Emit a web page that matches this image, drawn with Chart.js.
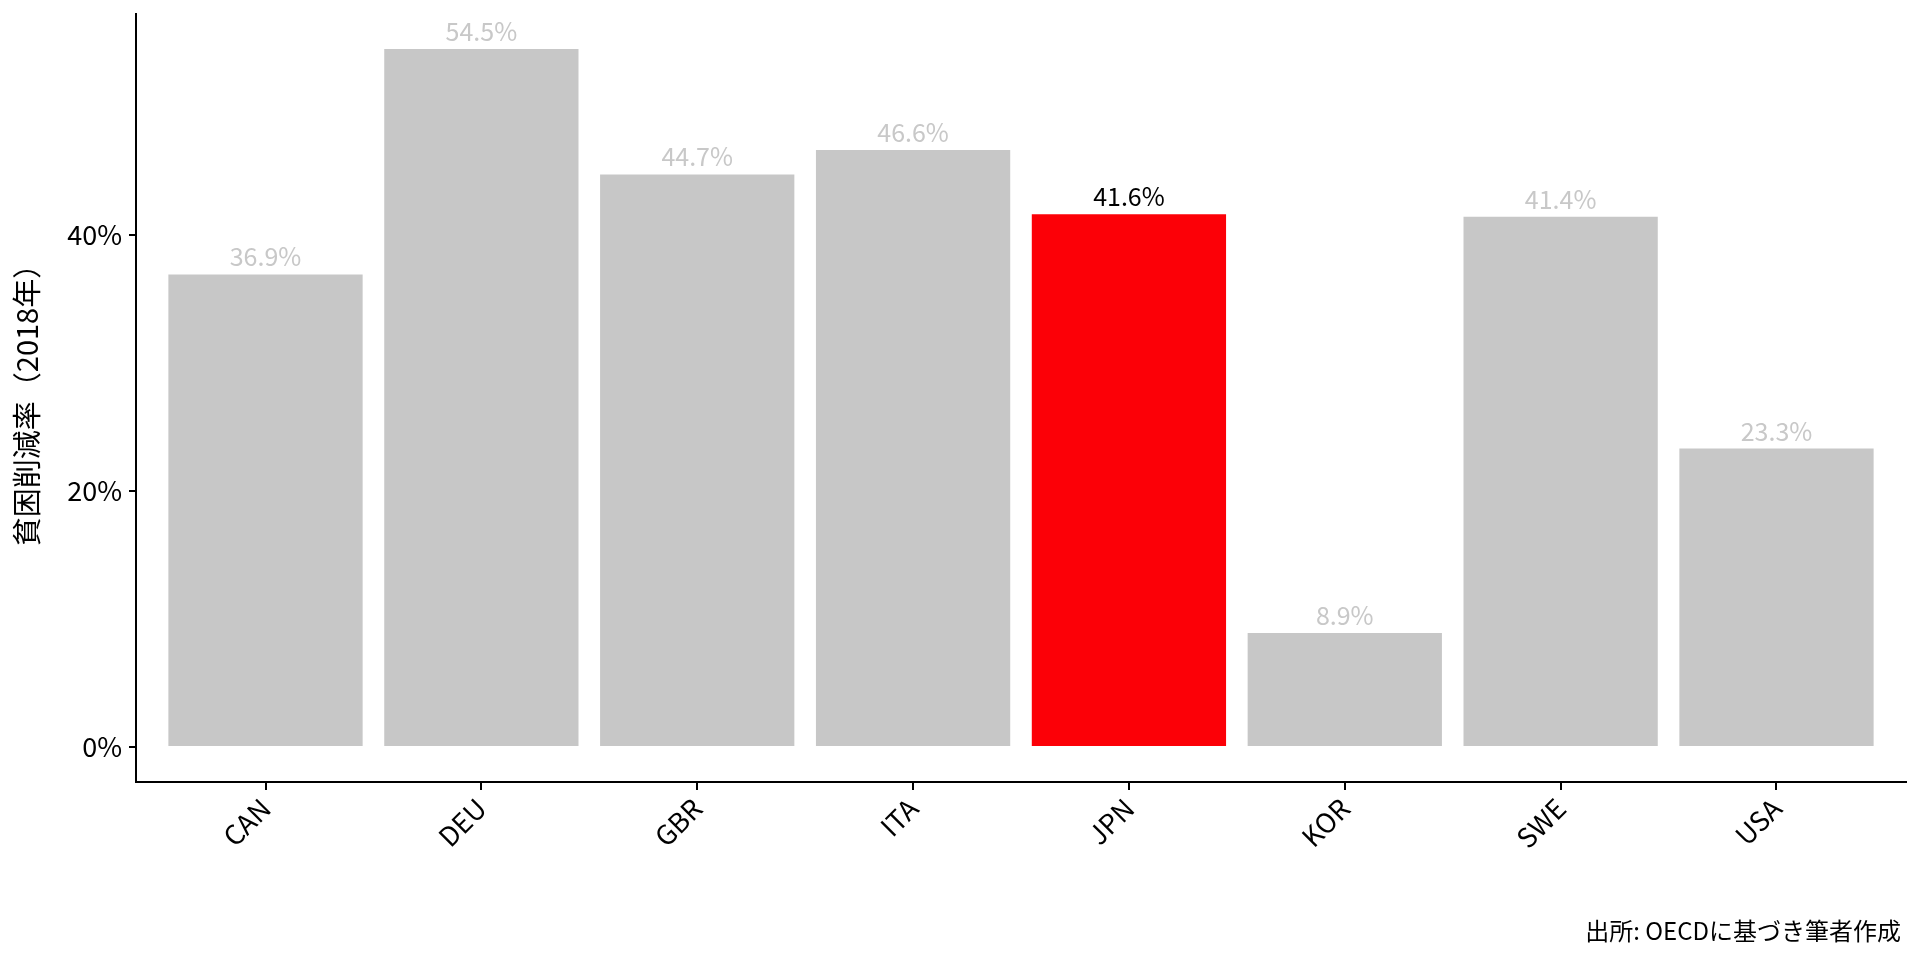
<!DOCTYPE html>
<html>
<head>
<meta charset="utf-8">
<script src="https://cdn.jsdelivr.net/npm/chart.js@4/dist/chart.umd.min.js"></script>
<style>
  html, body { margin: 0; padding: 0; background: #ffffff; }
  #wrap { width: 1920px; height: 960px; }
</style>
</head>
<body>
<div id="wrap"><canvas id="c" width="1920" height="960"></canvas></div>
<script>
const categories = ["CAN", "DEU", "GBR", "ITA", "JPN", "KOR", "SWE", "USA"];
const values = [36.9, 54.5, 44.7, 46.6, 41.6, 8.9, 41.4, 23.3];
const highlight = "JPN";
const yTicks = [0, 20, 40];
const yTitle = "貧困削減率（2018年）";
const caption = "出所: OECDに基づき筆者作成";

const GREY = "#C7C7C7";
const RED = "#FC0007";
const FONT = "'Noto Sans CJK JP', 'Noto Sans', sans-serif";
Chart.defaults.font.family = FONT;

const barColors = categories.map(c => c === highlight ? RED : GREY);
const labelColors = categories.map(c => c === highlight ? "#000000" : "#C8C8C8");

const dataMax = Math.max(...values);
const dataMin = 0;
const expand = (dataMax - dataMin) * 0.05;

const valueLabels = {
  id: "valueLabels",
  afterDatasetsDraw(chart) {
    const ctx = chart.ctx;
    const meta = chart.getDatasetMeta(0);
    ctx.save();
    ctx.font = "25px " + FONT;
    ctx.textAlign = "center";
    ctx.textBaseline = "alphabetic";
    meta.data.forEach((bar, i) => {
      ctx.fillStyle = labelColors[i];
      ctx.fillText(values[i].toFixed(1) + "%", bar.x, bar.y - 8);
    });
    ctx.restore();
  }
};

const captionPlugin = {
  id: "captionPlugin",
  afterDraw(chart) {
    const ctx = chart.ctx;
    ctx.save();
    ctx.font = "24px " + FONT;
    ctx.fillStyle = "#000000";
    ctx.textAlign = "right";
    ctx.textBaseline = "alphabetic";
    ctx.fillText(caption, 1901, 940);
    ctx.restore();
  }
};

new Chart(document.getElementById("c"), {
  type: "bar",
  data: {
    datasets: [{
      data: values.map((v, i) => ({ x: i, y: v })),
      backgroundColor: barColors,
      borderWidth: 0,
      barPercentage: 0.9,
      categoryPercentage: 1.0
    }]
  },
  options: {
    responsive: false,
    animation: false,
    layout: { padding: { left: 0, right: 14, top: 14, bottom: 0 } },
    plugins: {
      legend: { display: false },
      tooltip: { enabled: false }
    },
    scales: {
      x: {
        type: "linear",
        offset: false,
        min: -0.6,
        max: categories.length - 1 + 0.6,
        afterBuildTicks: (axis) => { axis.ticks = categories.map((c, i) => ({ value: i })); },
        afterFit: (axis) => { axis.height = 178; axis.paddingLeft = 0; axis.paddingRight = 0; },
        border: { display: true, color: "#000000", width: 2 },
        grid: { display: true, offset: false, drawOnChartArea: false, drawTicks: true, tickLength: 8, color: "#000000", lineWidth: 2 },
        ticks: {
          autoSkip: false,
          minRotation: 45,
          maxRotation: 45,
          padding: 2,
          color: "#000000",
          font: { size: 27 },
          callback: (v) => categories[v]
        }
      },
      y: {
        type: "linear",
        min: dataMin - expand,
        max: dataMax + expand,
        afterBuildTicks: (axis) => { axis.ticks = yTicks.map(v => ({ value: v })); },
        afterFit: (axis) => { axis.width = 136; axis.paddingTop = 0; axis.paddingBottom = 0; },
        border: { display: true, color: "#000000", width: 2 },
        grid: { display: true, drawOnChartArea: false, drawTicks: true, tickLength: 7, color: "#000000", lineWidth: 2 },
        ticks: {
          padding: 7,
          color: "#000000",
          font: { size: 27 },
          callback: (v) => v + "%"
        },
        title: {
          display: true,
          text: yTitle,
          color: "#000000",
          font: { size: 29 },
          padding: { top: 10, bottom: 0 }
        }
      }
    }
  },
  plugins: [valueLabels, captionPlugin]
});
</script>
</body>
</html>
